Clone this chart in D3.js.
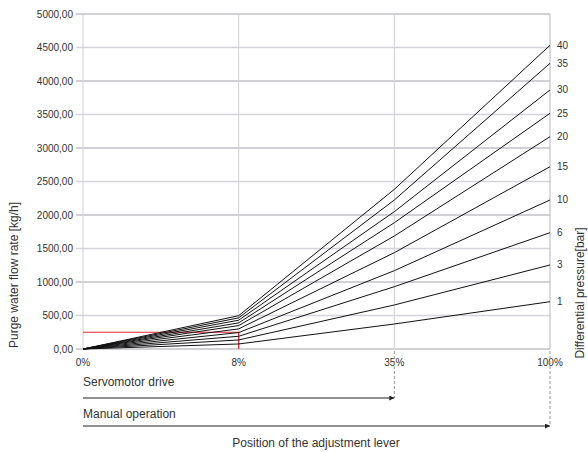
<html>
<head>
<script src="https://cdn.jsdelivr.net/npm/d3@7"></script>
<style>
  body { margin: 0; background: #fff; }
  text { font-family: "Liberation Sans", Arial, sans-serif; fill: #333; }
</style>
</head>
<body>
<div id="container"></div>
<script>
// lever positions (categorical, evenly spaced)
var positions = ['0%', '8%', '35%', '100%']
// differential pressure in bar, one curve each
var pressures = [1, 3, 6, 10, 15, 20, 25, 30, 35, 40]
// flow rate [kg/h] at 0%, 8%, 35%, 100%
var flow1  = [0, 75, 373, 706]
var flow3  = [0, 135, 657, 1254]
var flow6  = [0, 190, 930, 1736]
var flow10 = [0, 245, 1169, 2224]
var flow15 = [0, 300, 1438, 2721]
var flow20 = [0, 350, 1687, 3169]
var flow25 = [0, 390, 1885, 3518]
var flow30 = [0, 430, 2050, 3866]
var flow35 = [0, 465, 2224, 4264]
var flow40 = [0, 497, 2383, 4533]
var flows = [flow1, flow3, flow6, flow10, flow15, flow20, flow25, flow30, flow35, flow40]
var yTicks = [0, 500, 1000, 1500, 2000, 2500, 3000, 3500, 4000, 4500, 5000]
// red reading example
var markPos = '8%'
var markFlow = 250

var svg = d3.select('#container').append('svg')
  .attr('width', 588)
  .attr('height', 452)

var x = d3.scalePoint().domain(positions).range([83, 550])
var y = d3.scaleLinear().domain([0, 5000]).range([349, 14])

var loc = d3.formatLocale({ decimal: ',', thousands: '', grouping: [3], currency: ['', ''] })
var fmt = loc.format('.2f')

// horizontal grid, alternating styles
svg.append('g').selectAll('line').data(yTicks).enter().append('line')
  .attr('x1', 76).attr('x2', 550)
  .attr('y1', function(d){ return y(d) }).attr('y2', function(d){ return y(d) })
  .attr('stroke', function(d){ return d % 1000 === 0 ? '#a4a4ac' : '#d4d4da' })
  .attr('stroke-width', function(d){ return d % 1000 === 0 ? 1 : 1.6 })

// vertical grid
svg.append('g').selectAll('line').data(positions).enter().append('line')
  .attr('x1', function(d){ return x(d) }).attr('x2', function(d){ return x(d) })
  .attr('y1', y(5000)).attr('y2', y(0))
  .attr('stroke', function(d){ return d === '100%' ? '#b4b4bc' : '#d0d0d6' })
  .attr('stroke-width', 1)

// y tick labels
svg.append('g').selectAll('text').data(yTicks).enter().append('text')
  .attr('x', 73).attr('y', function(d){ return y(d) })
  .attr('dy', '0.35em')
  .attr('text-anchor', 'end')
  .attr('font-size', 10)
  .text(function(d){ return fmt(d) })

// x tick labels
svg.append('g').selectAll('text').data(positions).enter().append('text')
  .attr('x', function(d){ return x(d) }).attr('y', 366)
  .attr('text-anchor', 'middle')
  .attr('font-size', 10)
  .text(function(d){ return d })

// red reading lines
svg.append('path')
  .attr('d', 'M' + x('0%') + ',' + y(markFlow) + 'H' + x(markPos) + 'V' + y(0))
  .attr('fill', 'none').attr('stroke', '#e8262e').attr('stroke-width', 1.2)

// curves
var line = d3.line()
  .x(function(d, i){ return x(positions[i]) })
  .y(function(d){ return y(d) })

svg.append('g').selectAll('path').data(flows).enter().append('path')
  .attr('d', line)
  .attr('fill', 'none')
  .attr('stroke', '#111')
  .attr('stroke-width', 1)

// pressure labels at line ends
svg.append('g').selectAll('text').data(flows).enter().append('text')
  .attr('x', 557).attr('y', function(d){ return y(d[3]) })
  .attr('dy', '0.35em')
  .attr('font-size', 10)
  .text(function(d, i){ return pressures[i] })

// axis titles
svg.append('text')
  .attr('transform', 'translate(18,275) rotate(-90)')
  .attr('text-anchor', 'middle')
  .attr('font-size', 12)
  .text('Purge water flow rate [kg/h]')

svg.append('text')
  .attr('transform', 'translate(584,293) rotate(-90)')
  .attr('text-anchor', 'middle')
  .attr('font-size', 12)
  .text('Differential pressure[bar]')

svg.append('text')
  .attr('x', 316).attr('y', 447)
  .attr('text-anchor', 'middle')
  .attr('font-size', 12)
  .text('Position of the adjustment lever')

// operating ranges with arrows
var ranges = [
  { label: 'Servomotor drive', to: '35%', ty: 386, ay: 398 },
  { label: 'Manual operation', to: '100%', ty: 418, ay: 426 }
]

svg.append('defs').append('marker')
  .attr('id', 'arr')
  .attr('viewBox', '0 0 10 10')
  .attr('refX', 10).attr('refY', 5)
  .attr('markerWidth', 7).attr('markerHeight', 5)
  .attr('markerUnits', 'userSpaceOnUse')
  .attr('orient', 'auto')
  .append('path').attr('d', 'M0,0L10,5L0,10Z').attr('fill', '#222')

ranges.forEach(function(r){
  svg.append('line')
    .attr('x1', x(r.to)).attr('x2', x(r.to))
    .attr('y1', y(0) + 2).attr('y2', r.ay)
    .attr('stroke', '#999').attr('stroke-dasharray', '3,2')
  svg.append('line')
    .attr('x1', x('0%')).attr('x2', x(r.to))
    .attr('y1', r.ay).attr('y2', r.ay)
    .attr('stroke', '#222').attr('stroke-width', 1)
    .attr('marker-end', 'url(#arr)')
  svg.append('text')
    .attr('x', x('0%')).attr('y', r.ty)
    .attr('font-size', 12)
    .text(r.label)
})
</script>
</body>
</html>
